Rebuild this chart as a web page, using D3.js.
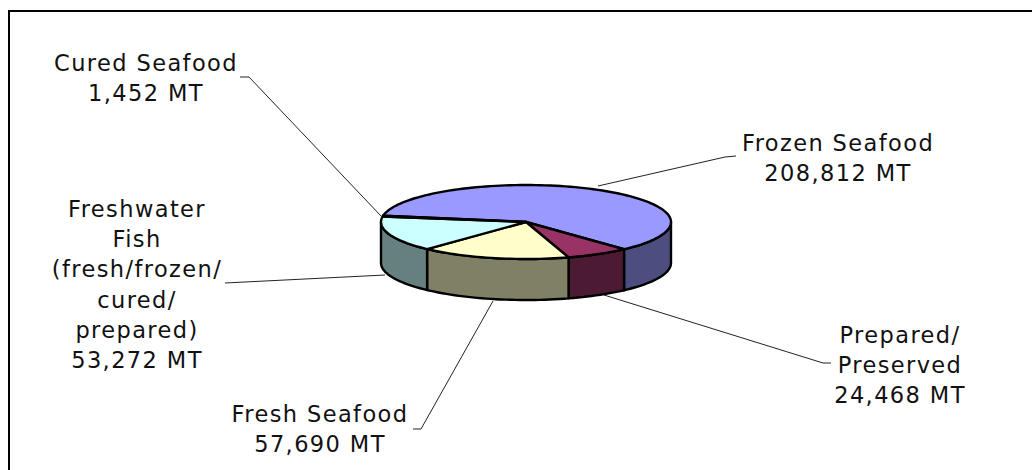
<!DOCTYPE html>
<html>
<head>
<meta charset="utf-8">
<style>
body { margin:0; background:#fff; overflow:hidden; }
text { font-family:"DejaVu Sans", sans-serif; font-size:22.5px; letter-spacing:1.4px; fill:#111; text-anchor:middle; }
</style>
</head>
<body>
<div id="chart"></div>
<script src="https://d3js.org/d3.v7.min.js"></script>
<script>
var names = ["Frozen Seafood", "Prepared/Preserved", "Fresh Seafood", "Freshwater Fish", "Cured Seafood"];
var tonnes = [208812, 24468, 57690, 53272, 1452];
var colors = ["#9999ff", "#993366", "#ffffcc", "#ccffff", "#660066"];
var sides = ["#4d4d80", "#4d1a33", "#808066", "#668080", "#330033"];

var labelLines = [
  ["Frozen Seafood", "208,812 MT"],
  ["Prepared/", "Preserved", "24,468 MT"],
  ["Fresh Seafood", "57,690 MT"],
  ["Freshwater", "Fish", "(fresh/frozen/", "cured/", "prepared)", "53,272 MT"],
  ["Cured Seafood", "1,452 MT"]
];

// label layout, not data: centre x, first baseline, leader line
var labelX = [838, 900, 320, 137, 146];
var labelY = [151, 343, 422, 217, 71];
var leaders = [
  [[736,156],[725,157],[598,186]],
  [[831,363],[823,363],[604,295]],
  [[413,429],[421,429],[493,301]],
  [[225,283],[385,275]],
  [[240,77],[249,77],[381,216]]
];

var W = 1032, H = 470;
var cx = 526, cy = 222, rx = 145, ry = 37, depth = 41;
var lineH = 30.2;

var svg = d3.select("#chart").append("svg").attr("width", W).attr("height", H);

svg.append("path").attr("d", "M9," + (H + 5) + "V11H" + (W + 5))
   .attr("fill", "none").attr("stroke", "#000").attr("stroke-width", 2);

var deg = Math.PI / 180;
var pie = d3.pie().sort(null).startAngle(-80 * deg).endAngle(280 * deg);
var slices = pie(tonnes);

var sx = d3.scaleLinear().domain([-1, 1]).range([cx - rx, cx + rx]);
var sy = d3.scaleLinear().domain([-1, 1]).range([cy - ry, cy + ry]);

function rim(a, dy) { return [sx(Math.sin(a)), sy(-Math.cos(a)) + dy]; }

function arcPoints(a0, a1, dy) {
  var n = Math.max(2, Math.ceil((a1 - a0) / (2 * deg)));
  return d3.range(n + 1).map(function (i) { return rim(a0 + (a1 - a0) * i / n, dy); });
}

var line = d3.line();

// front wall, only the part of each slice between 3 and 9 o'clock
slices.forEach(function (s, i) {
  var a0 = Math.max(s.startAngle, 90 * deg), a1 = Math.min(s.endAngle, 270 * deg);
  if (a1 <= a0) return;
  var pts = arcPoints(a0, a1, 0).concat(arcPoints(a0, a1, depth).reverse());
  svg.append("path").attr("d", line(pts) + "Z")
     .attr("fill", sides[i]).attr("stroke", "#000").attr("stroke-width", 2.4).attr("stroke-linejoin", "round");
});

// top face
slices.forEach(function (s, i) {
  var pts = [[sx(0), sy(0)]].concat(arcPoints(s.startAngle, s.endAngle, 0));
  svg.append("path").attr("d", line(pts) + "Z")
     .attr("fill", colors[i]).attr("stroke", "#000").attr("stroke-width", 2.4).attr("stroke-linejoin", "round");
});

// leaders
leaders.forEach(function (l) {
  svg.append("path").attr("d", line(l)).attr("fill", "none").attr("stroke", "#222").attr("stroke-width", 1);
});

// labels
labelLines.forEach(function (lines, i) {
  var t = svg.append("text").attr("x", labelX[i]).attr("y", labelY[i]);
  lines.forEach(function (s, j) {
    t.append("tspan").attr("x", labelX[i]).attr("dy", j ? lineH : 0).text(s);
  });
});
</script>
</body>
</html>
